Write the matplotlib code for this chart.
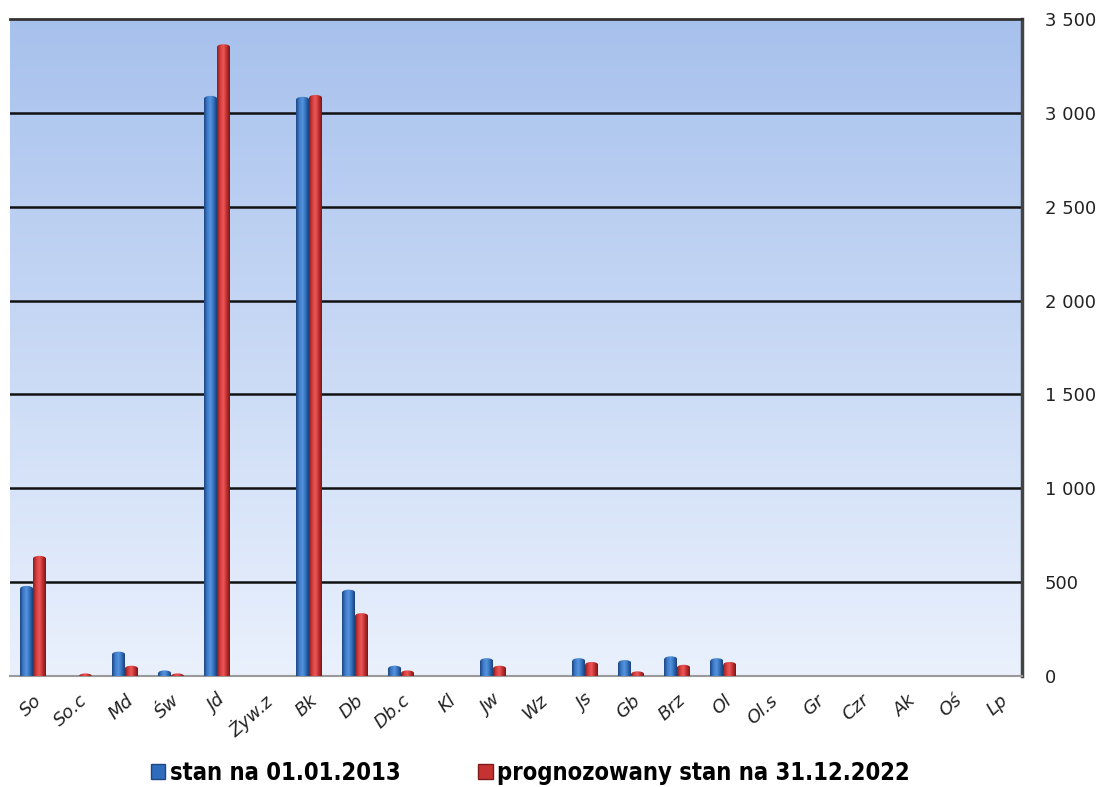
import numpy as np
import matplotlib
matplotlib.use("Agg")
import matplotlib.pyplot as plt
from matplotlib.colors import LinearSegmentedColormap
from matplotlib.patches import Rectangle, Ellipse
from matplotlib.ticker import FuncFormatter

categories = ["So", "So.c", "Md", "Św", "Jd", "Żyw.z", "Bk", "Db", "Db.c", "Kl", "Jw",
              "Wz", "Js", "Gb", "Brz", "Ol", "Ol.s", "Gr", "Czr", "Ak", "Oś", "Lp"]
stan_2013 = [480, 0, 130, 30, 3090, 0, 3085, 460, 55, 0, 95, 0, 95, 85, 105, 95, 0, 0, 0, 0, 0, 0]
prognoza_2022 = [640, 8, 55, 4, 3365, 0, 3095, 335, 30, 0, 55, 0, 75, 25, 60, 75, 0, 0, 0, 0, 0, 0]
series_labels = ["stan na 01.01.2013", "prognozowany stan na 31.12.2022"]
yticks = [0, 500, 1000, 1500, 2000, 2500, 3000, 3500]

blue_cm = LinearSegmentedColormap.from_list("b", ["#1d4582", "#3d7cc9", "#5793de", "#3270bd", "#1a3f78"])
red_cm = LinearSegmentedColormap.from_list("r", ["#8a1c1c", "#d63d3d", "#ea5858", "#c02e2e", "#761818"])

fig = plt.figure(figsize=(11.1, 7.87), dpi=100, facecolor="white")
ax = fig.add_axes([0.009, 0.141, 0.912, 0.835])
ax.set_xlim(0, len(categories))
ax.set_ylim(0, 3500)

# gradient background of the plot area
bg = np.linspace(0, 1, 256).reshape(-1, 1)
bg_cm = LinearSegmentedColormap.from_list("bg", ["#eaf1fd", "#a7c1ed"])
ax.imshow(bg, cmap=bg_cm, origin="lower", aspect="auto", extent=(0, 1, 0, 1),
          transform=ax.transAxes, zorder=0)

for y in yticks[1:-1]:
    ax.axhline(y, color="#111111", lw=1.8, zorder=1)

grad = np.linspace(0, 1, 64).reshape(1, -1)
w = 0.28
cap = 28  # height of rounded top in data units
x = np.arange(len(categories)) + 0.5
for vals, cm, off in [(stan_2013, blue_cm, -w / 2), (prognoza_2022, red_cm, w / 2)]:
    bars = ax.bar(x + off, [max(v - cap / 2, 0) for v in vals], width=w, color="none", zorder=2)
    for b, v in zip(bars, vals):
        if v <= 0:
            continue
        x0 = b.get_x()
        h = b.get_height()
        r = Rectangle((x0, 0), w, h, transform=ax.transData, fc="none", ec="none")
        ax.add_patch(r)
        im = ax.imshow(grad, cmap=cm, aspect="auto", extent=(x0, x0 + w, 0, h), zorder=3)
        im.set_clip_path(r)
        e = Ellipse((x0 + w / 2, h), w, cap, transform=ax.transData, fc="none", ec="none")
        ax.add_patch(e)
        im2 = ax.imshow(grad, cmap=cm, aspect="auto",
                        extent=(x0, x0 + w, h - cap / 2, h + cap / 2), zorder=3)
        im2.set_clip_path(e)

ax.set_xlim(0, len(categories))
ax.set_ylim(0, 3500)

ax.yaxis.tick_right()
ax.set_yticks(yticks)
ax.yaxis.set_major_formatter(FuncFormatter(lambda v, p: f"{int(v):,}".replace(",", " ")))
ax.tick_params(axis="y", length=0, pad=16, labelsize=13, labelcolor="#222222")
ax.set_xticks(x)
ax.set_xticklabels(categories, rotation=42, ha="right", rotation_mode="anchor",
                   fontsize=13, style="italic", color="#222222")
ax.tick_params(axis="x", length=0, pad=11)

ax.spines["left"].set_visible(False)
ax.spines["top"].set_color("#333333")
ax.spines["top"].set_linewidth(2)
ax.spines["right"].set_color("#444444")
ax.spines["right"].set_linewidth(2.5)
ax.spines["bottom"].set_color("#9a9a9a")
ax.spines["bottom"].set_linewidth(1.5)

handles = [Rectangle((0, 0), 1, 1, fc="#2f6cbc", ec="#1f4680"),
           Rectangle((0, 0), 1, 1, fc="#c53232", ec="#7e1a1a")]
fig.legend(handles, series_labels, loc="center", bbox_to_anchor=(0.478, 0.018), ncol=2,
           frameon=False, handlelength=0.6, handleheight=0.6, handletextpad=0.2,
           columnspacing=3.3, prop={"size": 17, "weight": "bold", "stretch": "condensed"})

fig.savefig("out.png", dpi=100, facecolor="white")
